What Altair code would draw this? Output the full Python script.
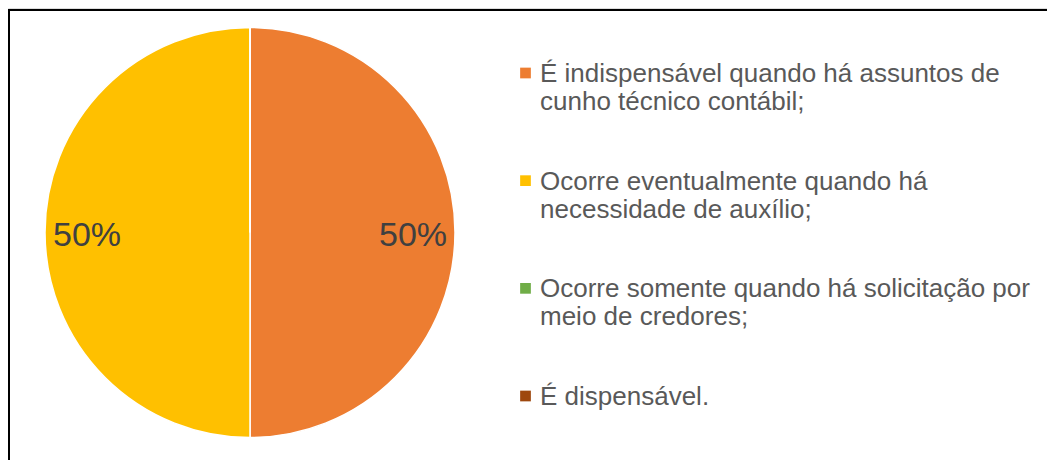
import altair as alt
import pandas as pd

categories = [
    "É indispensável quando há assuntos de\ncunho técnico contábil;",
    "Ocorre eventualmente quando há\nnecessidade de auxílio;",
    "Ocorre somente quando há solicitação por\nmeio de credores;",
    "É dispensável.",
]
values = [50, 50, 0, 0]
labels = ["50%", "50%", "", ""]
colors = ["#ED7D31", "#FFC000", "#70AD47", "#9E480E"]

df = pd.DataFrame({"cat": categories, "val": values, "lab": labels,
                   "order": list(range(len(categories)))})

CX, CY, R = 242, 224.5, 205
color_scale = alt.Scale(domain=categories, range=colors)

base = alt.Chart(df).encode(
    theta=alt.Theta("val:Q", stack=True),
    order=alt.Order("order:Q"),
)

pie = base.mark_arc(outerRadius=R, stroke="white", strokeWidth=1.5).encode(
    x=alt.value(CX), y=alt.value(CY),
    color=alt.Color("cat:N", scale=color_scale, legend=None),
)

text = base.mark_text(radius=163, dy=3, font="Liberation Sans", fontSize=34,
                      color="#404040").encode(
    x=alt.value(CX), y=alt.value(CY), text="lab:N"
)

# legend built from the same categories
ly = alt.Y("cat:N", sort=categories, axis=None,
           scale=alt.Scale(type="point", range=[65, 388], padding=0))

leg_sym = alt.Chart(df).mark_square(size=115, opacity=1).encode(
    x=alt.value(517.5), y=ly,
    color=alt.Color("cat:N", scale=color_scale, legend=None),
)
leg_txt = alt.Chart(df).mark_text(
    align="left", baseline="top", dy=-12, lineBreak="\n", lineHeight=28,
    font="Liberation Sans", fontSize=26, color="#595959",
).encode(x=alt.value(532), y=ly, text="cat:N")

border_top = alt.Chart(df).mark_rule(color="black", strokeWidth=2).encode(
    x=alt.value(0), x2=alt.value(1039), y=alt.value(2)
)
border_left = alt.Chart(df).mark_rule(color="black", strokeWidth=2).encode(
    x=alt.value(1), y=alt.value(2), y2=alt.value(452)
)

chart = alt.layer(pie, text, leg_sym, leg_txt, border_top, border_left).resolve_scale(
    y="independent"
).properties(
    width=1039, height=452, autosize=alt.AutoSizeParams(type="none"),
    padding=0,
).configure_view(stroke=None).configure(background="white")

chart.save("out.html", embed_options={"renderer": "svg", "actions": False})
